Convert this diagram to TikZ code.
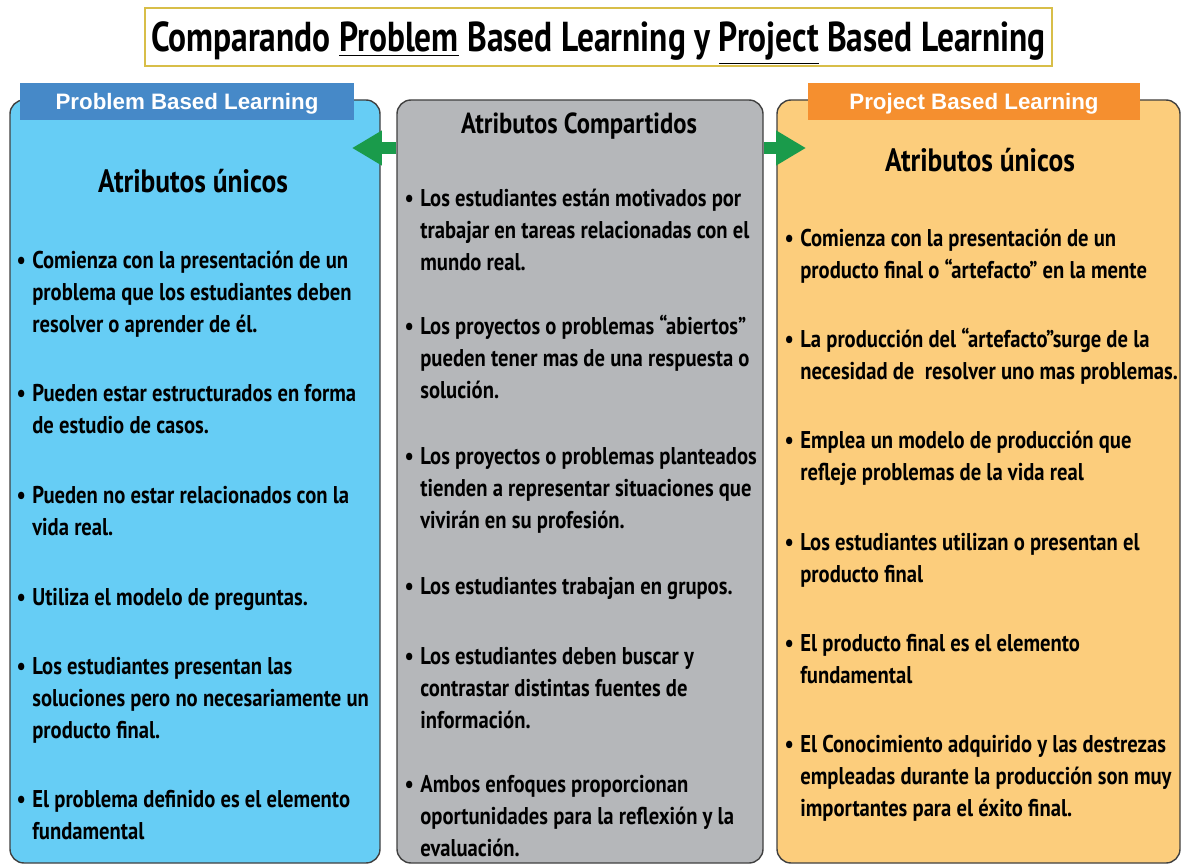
\documentclass[tikz,border=0pt]{standalone}
\usepackage{fontspec}
\usetikzlibrary{arrows.meta}
\newfontfamily\condfont{PT Sans}[FakeStretch=0.85]
\newfontfamily\titlefont{PT Sans}[FakeStretch=0.8]
\newfontfamily\tabfont{Liberation Sans}
\definecolor{pblfill}{HTML}{66CDF5}
\definecolor{pbltab}{HTML}{4689C8}
\definecolor{midfill}{HTML}{B5B7BA}
\definecolor{prjfill}{HTML}{FCCD7C}
\definecolor{prjtab}{HTML}{F58F2F}
\definecolor{arrgreen}{HTML}{1A9B4B}
\definecolor{titlegold}{HTML}{D8BE48}
\definecolor{edgegray}{HTML}{404040}
\newcommand\bulpt{\llap{\textbullet\hspace{0.13cm}}}

\begin{document}
\begin{tikzpicture}[x=0.02cm,y=-0.02cm,
    colbox/.style={draw=edgegray,line width=0.8pt,rounded corners=0.28cm,minimum height=763*0.02cm},
    tabbox/.style={inner sep=0pt,minimum height=37*0.02cm,text height=9.1pt,text depth=0pt,text=white,font=\tabfont\bfseries\fontsize{12.7}{14}\selectfont},
    heading/.style={anchor=base,font=\condfont\bfseries\fontsize{18.4}{20}\selectfont},
    entry/.style={anchor=base west,align=left,inner sep=0pt,font=\condfont\bfseries\fontsize{13.8}{18.2}\selectfont},
    garrow/.style={arrgreen,line width=0.26cm,-{Triangle[length=0.6cm,width=0.66cm]}}]
    \useasboundingbox (0,0) rectangle (1184,865);

    \node[draw=titlegold,line width=1.2pt,minimum width=907*0.02cm,minimum height=58*0.02cm] (title) at (598.5,37) {};
    \node[anchor=base,font=\titlefont\bfseries\fontsize{23.8}{26}\selectfont] (titletext) at (598.5,52)
        {Comparando \underline{Problem} Based Learning y \underline{Project} Based Learning};

    \node[colbox,fill=pblfill,minimum width=370*0.02cm] (pbl) at (195,481.5) {};
    \node[colbox,fill=midfill,minimum width=366*0.02cm] (mid) at (580,481.5) {};
    \node[colbox,fill=prjfill,minimum width=403*0.02cm] (prj) at (978.5,481.5) {};

    \node[tabbox,fill=pbltab,minimum width=334*0.02cm] (pbltab) at (187,101.5) {Problem Based Learning};
    \node[tabbox,fill=prjtab,minimum width=332*0.02cm] (prjtab) at (974,101.5) {Project Based Learning};

    \coordinate (tipl) at (352,148);
    \coordinate (tipr) at (806,148);
    \draw[garrow] (mid.west |- tipl) -- (tipl);
    \draw[garrow] (mid.east |- tipr) -- (tipr);

    \node[heading] (pblhead) at (193,193) {Atributos únicos};
    \node[heading,font=\condfont\bfseries\fontsize{16.5}{18}\selectfont] (midhead) at (579,133) {Atributos Compartidos};
    \node[heading] (prjhead) at (980,172) {Atributos únicos};

    \node[entry] (p1) at (32,332) {\bulpt Comienza con la presentación de un\\problema que los estudiantes deben\\resolver o aprender de él.};
    \node[entry] (p2) at (32,433) {\bulpt Pueden estar estructurados en forma\\de estudio de casos.};
    \node[entry] (p3) at (32,535) {\bulpt Pueden no estar relacionados con la\\vida real.};
    \node[entry] (p4) at (32,605) {\bulpt Utiliza el modelo de preguntas.};
    \node[entry] (p5) at (32,738) {\bulpt Los estudiantes presentan las\\soluciones pero no necesariamente un\\producto final.};
    \node[entry] (p6) at (32,839) {\bulpt El problema definido es el elemento\\fundamental};

    \node[entry] (m1) at (420,270) {\bulpt Los estudiantes están motivados por\\trabajar en tareas relacionadas con el\\mundo real.};
    \node[entry] (m2) at (420,398) {\bulpt Los proyectos o problemas “abiertos”\\pueden tener mas de una respuesta o\\solución.};
    \node[entry] (m3) at (420,528) {\bulpt Los proyectos o problemas planteados\\tienden a representar situaciones que\\vivirán en su profesión.};
    \node[entry] (m4) at (420,594) {\bulpt Los estudiantes trabajan en grupos.};
    \node[entry] (m5) at (420,728) {\bulpt Los estudiantes deben buscar y\\contrastar distintas fuentes de\\información.};
    \node[entry] (m6) at (420,856) {\bulpt Ambos enfoques proporcionan\\oportunidades para la reflexión y la\\evaluación.};

    \node[entry] (j1) at (800,278) {\bulpt Comienza con la presentación de un\\producto final o “artefacto” en la mente};
    \node[entry] (j2) at (800,379) {\bulpt La producción del “artefacto”surge de la\\necesidad de\ \ resolver uno mas problemas.};
    \node[entry] (j3) at (800,480) {\bulpt Emplea un modelo de producción que\\refleje problemas de la vida real};
    \node[entry] (j4) at (800,582) {\bulpt Los estudiantes utilizan o presentan el\\producto final};
    \node[entry] (j5) at (800,683) {\bulpt El producto final es el elemento\\fundamental};
    \node[entry] (j6) at (800,816) {\bulpt El Conocimiento adquirido y las destrezas\\empleadas durante la producción son muy\\importantes para el éxito final.};
\end{tikzpicture}
\end{document}
